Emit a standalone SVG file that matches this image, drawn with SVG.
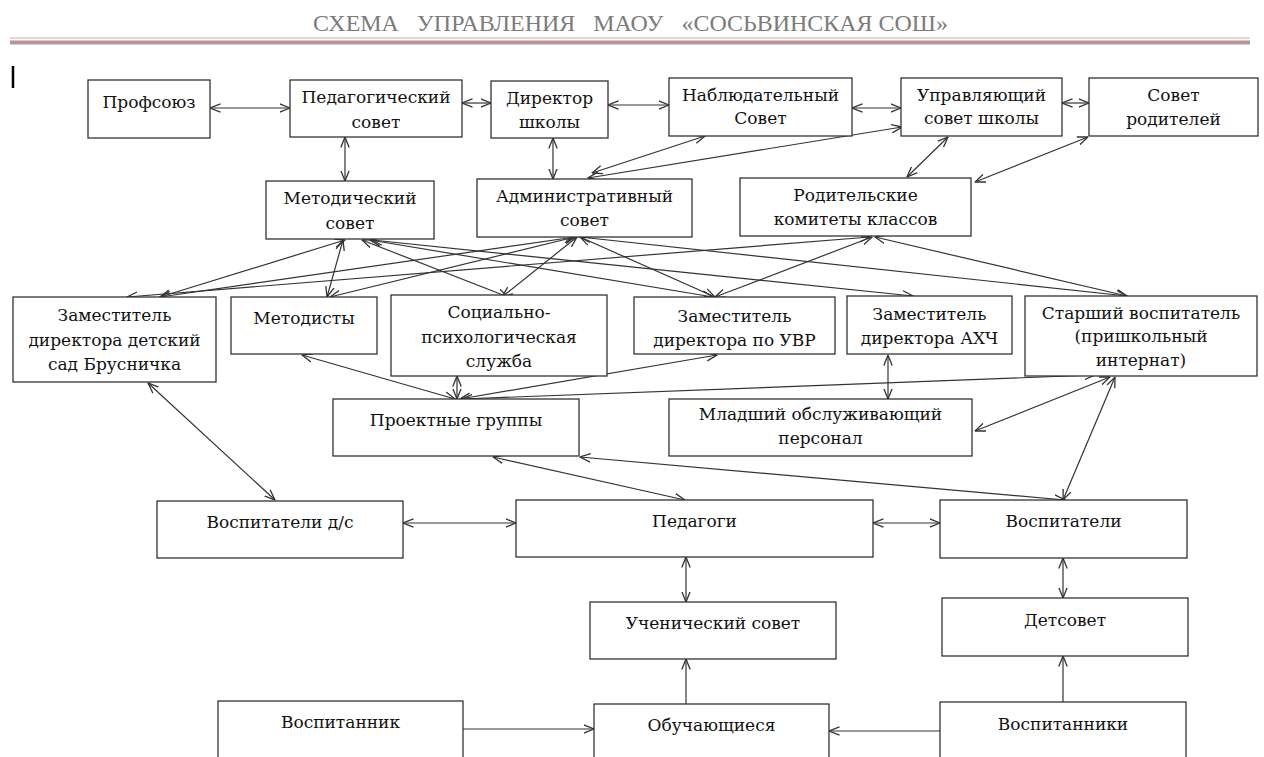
<svg xmlns="http://www.w3.org/2000/svg" width="1264" height="757" viewBox="0 0 1264 757">
<style>
.box{fill:#fff;stroke:#333;stroke-width:1.3}
.t{font-family:"DejaVu Serif","Liberation Serif",serif;font-size:17px;fill:#111;text-anchor:middle}
.c line{stroke:#333;stroke-width:1.2}
.d{marker-start:url(#a);marker-end:url(#a)}
.s{marker-end:url(#a)}
.title{font-family:"Liberation Serif","DejaVu Serif",serif;font-size:24px;fill:#7b7b7b}
</style>
<defs>
<marker id="a" viewBox="0 0 11 10" refX="10.5" refY="5" markerWidth="11" markerHeight="10" markerUnits="userSpaceOnUse" orient="auto-start-reverse">
<path d="M0,0.8 L10.5,5 L0,9.2" fill="none" stroke="#333" stroke-width="1.3"/>
</marker>
</defs>
<rect width="1264" height="757" fill="#fff"/>
<g id="header">
<text class="title" x="313" y="31" textLength="635" lengthAdjust="spacingAndGlyphs" xml:space="preserve">СХЕМА   УПРАВЛЕНИЯ   МАОУ   «СОСЬВИНСКАЯ СОШ»</text>
<line x1="10" y1="38" x2="1250" y2="38" stroke="#dcc8c8" stroke-width="1.5"/>
<line x1="10" y1="42.5" x2="1250" y2="42.5" stroke="#b99595" stroke-width="4"/>
<line x1="13" y1="66" x2="13" y2="88" stroke="#000" stroke-width="2.5"/>
</g>
<g id="connectors" class="c">
<line class="d" x1="210" y1="108" x2="290" y2="108"/>
<line class="d" x1="462" y1="103" x2="491" y2="103"/>
<line class="d" x1="608" y1="105" x2="669" y2="105"/>
<line class="d" x1="852" y1="108" x2="901" y2="108"/>
<line class="d" x1="1062" y1="103" x2="1089" y2="103"/>
<line class="d" x1="345" y1="137" x2="345" y2="181"/>
<line class="d" x1="553" y1="138" x2="553" y2="179"/>
<line class="d" x1="705" y1="136" x2="592" y2="173"/>
<line class="d" x1="902" y1="127" x2="588" y2="178"/>
<line class="d" x1="948" y1="137" x2="907" y2="177"/>
<line class="d" x1="1088" y1="137" x2="975" y2="182"/>
<line class="d" x1="345" y1="240" x2="160" y2="297"/>
<line class="d" x1="575" y1="237" x2="160" y2="297"/>
<line class="d" x1="870" y1="237" x2="127" y2="297"/>
<line class="d" x1="343" y1="240" x2="327" y2="297"/>
<line class="d" x1="575" y1="237" x2="330" y2="297"/>
<line class="d" x1="362" y1="240" x2="508" y2="297"/>
<line class="d" x1="577" y1="237" x2="502" y2="297"/>
<line class="d" x1="370" y1="240" x2="713" y2="297"/>
<line class="d" x1="580" y1="237" x2="715" y2="297"/>
<line class="d" x1="872" y1="237" x2="715" y2="297"/>
<line class="d" x1="372" y1="240" x2="913" y2="296"/>
<line class="d" x1="580" y1="237" x2="1127" y2="296"/>
<line class="d" x1="875" y1="237" x2="1127" y2="296"/>
<line class="d" x1="302" y1="355" x2="455" y2="399"/>
<line class="d" x1="457" y1="376" x2="457" y2="399"/>
<line class="d" x1="717" y1="355" x2="460" y2="399"/>
<line class="d" x1="1095" y1="375" x2="462" y2="399"/>
<line class="d" x1="888" y1="355" x2="888" y2="399"/>
<line class="d" x1="1110" y1="377" x2="975" y2="431"/>
<line class="d" x1="1115" y1="377" x2="1063" y2="500"/>
<line class="d" x1="148" y1="383" x2="275" y2="500"/>
<line class="d" x1="493" y1="457" x2="685" y2="500"/>
<line class="d" x1="580" y1="457" x2="1065" y2="500"/>
<line class="d" x1="403" y1="523" x2="516" y2="523"/>
<line class="d" x1="873" y1="523" x2="940" y2="523"/>
<line class="d" x1="686" y1="557" x2="686" y2="602"/>
<line class="d" x1="1063" y1="558" x2="1063" y2="598"/>
<line class="s" x1="686" y1="704" x2="686" y2="659"/>
<line class="s" x1="1063" y1="702" x2="1063" y2="656"/>
<line class="s" x1="463" y1="729" x2="594" y2="729"/>
<line class="s" x1="940" y1="731" x2="829" y2="731"/>
</g>
<g id="n-profsoyuz"><rect class="box" x="88" y="80" width="122" height="58"/><text class="t" x="149" y="108">Профсоюз</text></g>
<g id="n-pedsovet"><rect class="box" x="290" y="80" width="172" height="57"/><text class="t" x="376" y="103">Педагогический</text><text class="t" x="376" y="128">совет</text></g>
<g id="n-director"><rect class="box" x="491" y="81" width="117" height="57"/><text class="t" x="549.5" y="104">Директор</text><text class="t" x="549.5" y="128">школы</text></g>
<g id="n-nabl"><rect class="box" x="669" y="78" width="183" height="58"/><text class="t" x="760.5" y="101">Наблюдательный</text><text class="t" x="760.5" y="124">Совет</text></g>
<g id="n-upr"><rect class="box" x="901" y="78" width="161" height="58"/><text class="t" x="981.5" y="101">Управляющий</text><text class="t" x="981.5" y="124">совет школы</text></g>
<g id="n-sovrod"><rect class="box" x="1089" y="78" width="169" height="58"/><text class="t" x="1173.5" y="101">Совет</text><text class="t" x="1173.5" y="125">родителей</text></g>
<g id="n-metsovet"><rect class="box" x="266" y="181" width="168" height="58"/><text class="t" x="350" y="204">Методический</text><text class="t" x="350" y="229">совет</text></g>
<g id="n-admsovet"><rect class="box" x="477" y="179" width="215" height="58"/><text class="t" x="584.5" y="202">Административный</text><text class="t" x="584.5" y="226">совет</text></g>
<g id="n-rodkom"><rect class="box" x="740" y="178" width="231" height="58"/><text class="t" x="855.5" y="201">Родительские</text><text class="t" x="855.5" y="225">комитеты классов</text></g>
<g id="n-zdds"><rect class="box" x="13" y="297" width="203" height="85"/><text class="t" x="114.5" y="321">Заместитель</text><text class="t" x="114.5" y="346">директора детский</text><text class="t" x="114.5" y="370">сад Брусничка</text></g>
<g id="n-metodisty"><rect class="box" x="231" y="297" width="146" height="57"/><text class="t" x="304" y="324">Методисты</text></g>
<g id="n-socpsy"><rect class="box" x="391" y="295" width="216" height="81"/><text class="t" x="499" y="318">Социально-</text><text class="t" x="499" y="343">психологическая</text><text class="t" x="499" y="367">служба</text></g>
<g id="n-zduvr"><rect class="box" x="634" y="297" width="201" height="57"/><text class="t" x="734.5" y="322">Заместитель</text><text class="t" x="734.5" y="346">директора по УВР</text></g>
<g id="n-zdahch"><rect class="box" x="847" y="296" width="165" height="58"/><text class="t" x="929.5" y="320">Заместитель</text><text class="t" x="929.5" y="344">директора АХЧ</text></g>
<g id="n-starvosp"><rect class="box" x="1025" y="296" width="232" height="80"/><text class="t" x="1141" y="319">Старший воспитатель</text><text class="t" x="1141" y="342">(пришкольный</text><text class="t" x="1141" y="366">интернат)</text></g>
<g id="n-proekt"><rect class="box" x="333" y="399" width="246" height="57"/><text class="t" x="456" y="426">Проектные группы</text></g>
<g id="n-mladsh"><rect class="box" x="669" y="399" width="303" height="57"/><text class="t" x="820.5" y="420">Младший обслуживающий</text><text class="t" x="820.5" y="444">персонал</text></g>
<g id="n-vospds"><rect class="box" x="157" y="501" width="246" height="57"/><text class="t" x="280" y="528">Воспитатели д/с</text></g>
<g id="n-pedagogi"><rect class="box" x="516" y="500" width="357" height="57"/><text class="t" x="694.5" y="527">Педагоги</text></g>
<g id="n-vosp"><rect class="box" x="940" y="500" width="247" height="58"/><text class="t" x="1063.5" y="527">Воспитатели</text></g>
<g id="n-uchsovet"><rect class="box" x="590" y="602" width="246" height="57"/><text class="t" x="713" y="629">Ученический совет</text></g>
<g id="n-detsovet"><rect class="box" x="942" y="598" width="246" height="58"/><text class="t" x="1065" y="626">Детсовет</text></g>
<g id="n-vospitannik"><rect class="box" x="218" y="701" width="245" height="70"/><text class="t" x="340.5" y="728">Воспитанник</text></g>
<g id="n-obuch"><rect class="box" x="594" y="704" width="235" height="70"/><text class="t" x="711.5" y="731">Обучающиеся</text></g>
<g id="n-vospitanniki"><rect class="box" x="940" y="702" width="246" height="70"/><text class="t" x="1063" y="730">Воспитанники</text></g>
</svg>
